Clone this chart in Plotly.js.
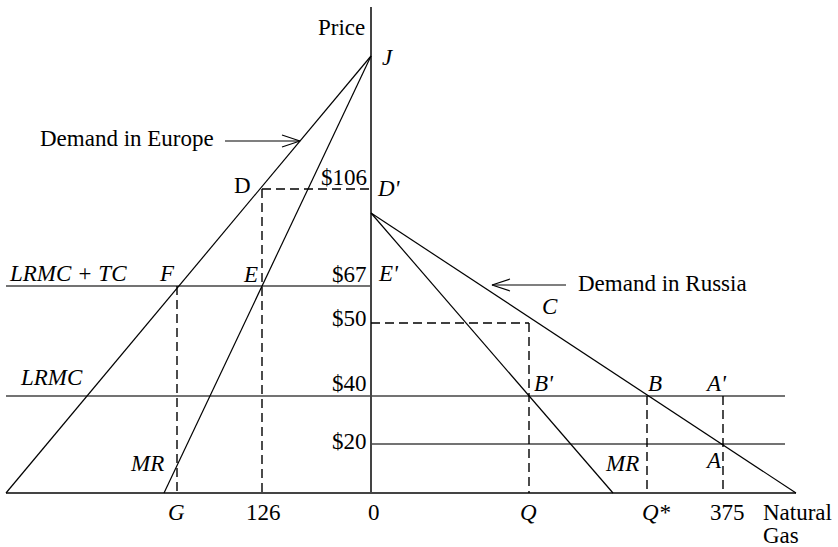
<!DOCTYPE html>
<html>
<head>
<meta charset="utf-8">
<script src="https://cdn.plot.ly/plotly-3.0.1.min.js"></script>
<style>html,body{margin:0;padding:0;background:#fff;}#chart{width:838px;height:547px;}</style>
</head>
<body>
<div id="chart"></div>
<script>
// Schematic diagram values (chart units; price axis at quantity 0)
const priceLabels = ['$106', '$67', '$50', '$40', '$20'];
const priceLevels = [304, 207, 170, 97, 49];
const qtyLabels = ['G', '126', '0', 'Q', 'Q*', '375'];
const qtyLevels = [-194, -109, 0, 158, 276, 352];

const europeDemandQ = [-365, 0];
const europeDemandP = [0, 437];
const europeMRQ = [-207, 0];
const europeMRP = [0, 437];
const russiaDemandQ = [0, 425];
const russiaDemandP = [280, 0];
const russiaMRQ = [0, 242];
const russiaMRP = [280, 0];

const priceAxisTop = 486;
const leftEnd = -365;
const rightEnd = 414;

const AX = '#444';
const traces = [];
function line(x, y, color, width, dash) {
  traces.push({type: 'scatter', mode: 'lines', x: x, y: y, hoverinfo: 'skip',
    line: {color: color, width: width, dash: dash || 'solid'}, showlegend: false});
}
// axes
line([0, 0], [0, priceAxisTop], AX, 2);
line([leftEnd, russiaDemandQ[1]], [0, 0], AX, 1.8);
// cost lines
line([leftEnd, 0], [priceLevels[1], priceLevels[1]], AX, 1.6);
line([leftEnd, rightEnd], [priceLevels[3], priceLevels[3]], AX, 1.6);
line([0, rightEnd], [priceLevels[4], priceLevels[4]], AX, 1.6);
// demand and MR
line(europeDemandQ, europeDemandP, '#000', 1.2);
line(europeMRQ, europeMRP, '#000', 1.2);
line(russiaDemandQ, russiaDemandP, '#000', 1.2);
line(russiaMRQ, russiaMRP, '#000', 1.2);
// dashed guides
const DS = '9px,5px';
const DW = 1.4;
line([qtyLevels[1], 0], [priceLevels[0], priceLevels[0]], '#000', DW, DS);
line([qtyLevels[1], qtyLevels[1]], [priceLevels[0], 0], '#000', DW, DS);
line([qtyLevels[0], qtyLevels[0]], [priceLevels[1], 0], '#000', DW, DS);
line([0, qtyLevels[3]], [priceLevels[2], priceLevels[2]], '#000', DW, DS);
line([qtyLevels[3], qtyLevels[3]], [priceLevels[2], 0], '#000', DW, DS);
line([qtyLevels[4], qtyLevels[4]], [priceLevels[3], 0], '#000', DW, DS);
line([qtyLevels[5], qtyLevels[5]], [priceLevels[3], 0], '#000', DW, DS);

// open arrows
function arrow(x0, x1, y) {
  const dir = Math.sign(x1 - x0);
  line([x0, x1], [y, y], '#000', 1.2);
  line([x1 - dir * 18, x1, x1 - dir * 18], [y + 6, y, y - 6], '#000', 1.2);
}
arrow(-146, -71, 352);
arrow(195, 121, 208);

const FONT = 'Liberation Serif, Times New Roman, serif';
const anns = [];
function lab(text, x, y, italic, xanchor) {
  anns.push({text: italic ? '<i>' + text + '</i>' : text, x: x, y: y, xref: 'x', yref: 'y',
    showarrow: false, xanchor: xanchor || 'center', yanchor: 'middle',
    font: {family: FONT, size: 23, color: '#000'}});
}
lab('Price', -30, 466, false);
lab('J', 16.5, 436, true);
lab('Demand in Europe', -244.5, 355, false);
lab('D', -129, 308, false);
lab('D\'', 18, 305, true);
lab('LRMC + TC', -303.5, 220, true);
lab('F', -204.5, 220, true);
lab('E', -121, 219, true);
lab('E\'', 17, 220, true);
lab('Demand in Russia', 291.5, 210, false);
lab('C', 179, 187, true);
lab('LRMC', -320, 116, true);
lab('B\'', 173, 110, true);
lab('B', 284, 110, true);
lab('A\'', 345, 110, true);
lab('MR', -224, 30, true);
lab('MR', 251, 30, true);
lab('A', 342, 33, true);
// price labels
const priceLabelY = [316, 219, 175, 110, 52];
priceLabels.forEach((t, i) => lab(t, -2, priceLabelY[i], false, 'right'));
// quantity labels
const qtyLabelX = [-195, -108, 3, 157, 285, 356];
qtyLabels.forEach((t, i) => lab(t, qtyLabelX[i], -19, t === 'G' || t === 'Q' || t === 'Q*'));
lab('Natural', 390, -19, false, 'left');
lab('Gas', 390, -42, false, 'left');

const layout = {
  width: 838, height: 547,
  margin: {l: 0, r: 0, t: 0, b: 0},
  paper_bgcolor: '#fff', plot_bgcolor: '#fff',
  showlegend: false,
  xaxis: {range: [-371, 467], visible: false, fixedrange: true},
  yaxis: {range: [-54, 493], visible: false, fixedrange: true},
  annotations: anns
};
Plotly.newPlot('chart', traces, layout, {staticPlot: true, displayModeBar: false});
</script>
</body>
</html>
